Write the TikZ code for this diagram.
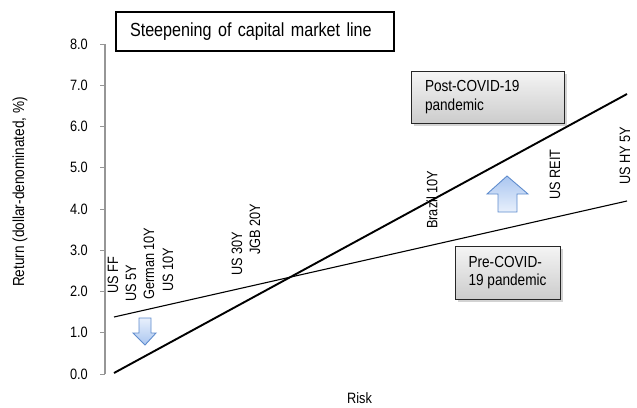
\documentclass[tikz,border=0pt]{standalone}
\usepackage{fontspec}
\setmainfont{Liberation Sans}
\newfontfamily\condfont[FakeStretch=0.85]{Liberation Sans}
\usetikzlibrary{shadows}
\definecolor{axisgray}{RGB}{150,150,150}
\definecolor{arrowedge}{RGB}{95,140,205}
\definecolor{arrowlight}{RGB}{232,240,252}
\definecolor{arrowdark}{RGB}{170,198,240}
\tikzset{
  ticklab/.style={anchor=east, inner sep=0pt, font=\condfont\fontsize{15}{17}\selectfont},
  vlab/.style={rotate=90, anchor=west, inner sep=0pt, font=\condfont\fontsize{15}{17}\selectfont},
  legendbox/.style={draw=black!85, line width=0.9pt, top color=gray!8, bottom color=gray!40,
     drop shadow={shadow xshift=2.5pt, shadow yshift=-2.5pt, opacity=0.35},
     align=left, font=\condfont\fontsize{16}{19}\selectfont, inner ysep=0pt},
  bluearrow/.style={draw=arrowedge, line width=0.9pt, line join=miter},
  preline/.style={line width=1.1pt},
  postline/.style={line width=1.9pt},
}
\begin{document}
\begin{tikzpicture}[x=1pt,y=-1pt]
\useasboundingbox (0,0) rectangle (637,407);
% axis
\coordinate (atop) at (105,44);
\coordinate (abot) at (105,374);
\draw[axisgray, line width=1.2pt] (atop) -- (abot);
\foreach \v [count=\i from 0] in {0.0,1.0,2.0,3.0,4.0,5.0,6.0,7.0,8.0}{
  \coordinate (t\i) at (105,{374-41.25*\i});
  \coordinate (tl\i) at (100,{374-41.25*\i});
  \draw[axisgray, line width=1pt] (tl\i) -- (t\i);
  \node[ticklab] (lab\i) at (88,{374-41.25*\i}) {\v};
}
% axis titles
\node[rotate=90, font=\condfont\fontsize{16}{18}\selectfont, inner sep=0pt] (ytitle) at (20,192) {Return (dollar-denominated, \%)};
\node[font=\condfont\fontsize{15}{17}\selectfont, inner sep=0pt] (xtitle) at (359.5,398) {Risk};
% title box
\node[draw=black, line width=1.8pt, fill=white, minimum width=278pt, minimum height=39pt,
  text width=250pt, align=left, inner xsep=14pt, font=\condfont\fontsize{19}{21}\selectfont] (title) at (255,31.5) {Steepening of capital market line};
% lines
\coordinate (preA) at (114,317);
\coordinate (preB) at (627,201);
\coordinate (postA) at (114,373);
\coordinate (postB) at (627,94);
\draw[preline] (preA) -- (preB);
\draw[postline] (postA) -- (postB);
% asset labels
\node[vlab] (usff) at (113,294) {US FF};
\node[vlab] (us5y) at (131,302) {US 5Y};
\node[vlab] (ger) at (149,300) {German 10Y};
\node[vlab] (us10) at (168,292) {US 10Y};
\node[vlab] (us30) at (237,276) {US 30Y};
\node[vlab] (jgb) at (255,255) {JGB 20Y};
\node[vlab] (bra) at (432,229) {Brazil 10Y};
\node[vlab] (reit) at (555,200) {US REIT};
\node[vlab] (hy) at (625,185) {US HY 5Y};
% legend boxes
\node[legendbox, minimum width=153pt, minimum height=52pt, text width=125pt, inner xsep=14pt] (post) at (487.5,97) {Post-COVID-19\\pandemic};
\node[legendbox, minimum width=105pt, minimum height=53pt, inner xsep=2pt, font=\condfont\fontsize{16}{18}\selectfont] (pre) at (507.5,272.5) {Pre-COVID-\\19 pandemic};
% arrows
\draw[bluearrow, top color=arrowdark, bottom color=arrowlight]
  (498,212) -- (517,212) -- (517,194) -- (528,194) -- (507,176) -- (487,194) -- (498,194) -- cycle;
\draw[bluearrow, top color=arrowlight, bottom color=arrowdark]
  (139,318) -- (151,318) -- (151,333) -- (156,333) -- (145,345) -- (133,333) -- (139,333) -- cycle;
\end{tikzpicture}
\end{document}
